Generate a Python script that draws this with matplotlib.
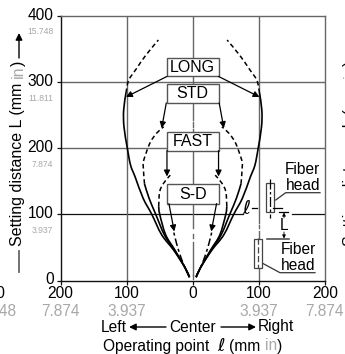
import matplotlib
matplotlib.use('Agg')
import matplotlib.pyplot as plt
from matplotlib.patches import Rectangle, PathPatch
from matplotlib.path import Path

plt.rcParams['font.family'] = ['Liberation Sans', 'DejaVu Sans']
plt.rcParams['font.size'] = 11.2

GRAY = '#a8a8a8'
GRID = '#666666'
DARK = '#111111'

# axis ticks
y_ticks = [0, 100, 200, 300, 400]
y_inch = ['', '3.937', '7.874', '11.811', '15.748']
x_ticks = [-200, -100, 0, 100, 200]
x_mm = ['200', '100', '0', '100', '200']
x_inch = ['7.874', '3.937', '', '3.937', '7.874']

# curves, left half as distance from centre (mm)
long_solid_x = [5, 12, 29, 47, 62, 75, 87, 94, 99, 104, 104.5, 101]
long_solid_y = [5, 20, 46, 69, 100, 124, 156, 174, 200, 232, 257, 283]
long_dash_x = [101, 97, 85, 71, 52]
long_dash_y = [283, 302, 320, 340, 363]
std_solid_x = [5, 12, 28, 43, 56, 66, 73]
std_solid_y = [5, 20, 46, 69, 100, 124, 146]
std_dash_x = [73, 75, 74, 65, 55, 44]
std_dash_y = [146, 174, 182, 207, 222, 232]
fast_solid_x = [5, 12, 27, 41, 50, 51.5]
fast_solid_y = [5, 20, 46, 69, 100, 112]
fast_dash_x = [51.5, 50, 44, 34]
fast_dash_y = [112, 134, 147, 159]
sd_x = [5, 12, 19, 24.5, 29]
sd_y = [5, 20, 38, 56, 74]

boxes = ['LONG', 'STD', 'FAST', 'S-D']
box_low = [308, 268, 196, 116]
box_high = [336, 296, 224, 145]

# leader arrows: start (x, y), tip (x, y)
leader_start = [(39, 308), (40, 268), (39, 196), (36, 116)]
leader_tip = [(101, 277), (47, 230), (39, 157), (28, 74)]

# visible stretches of the two broken grid lines (mm)
center_parts = [(3, 8), (8, 58), (64, 70), (79, 116), (145, 196), (224, 228), (232, 240), (242, 268), (296, 400)]
right_parts = [(0, 20), (64, 74), (79, 84), (87, 400)]


def smooth(xs, ys):
    # catmull-rom through the read points, as bezier path
    pts = list(zip(xs, ys))
    verts = [pts[0]]
    codes = [Path.MOVETO]
    for i in range(len(pts) - 1):
        p0 = pts[max(i - 1, 0)]
        p1 = pts[i]
        p2 = pts[i + 1]
        p3 = pts[min(i + 2, len(pts) - 1)]
        c1 = (p1[0] + (p2[0] - p0[0]) / 6, p1[1] + (p2[1] - p0[1]) / 6)
        c2 = (p2[0] - (p3[0] - p1[0]) / 6, p2[1] - (p3[1] - p1[1]) / 6)
        verts += [c1, c2, p2]
        codes += [Path.CURVE4] * 3
    return Path(verts, codes)


fig = plt.figure(figsize=(3.45, 3.54), dpi=100)
ax = fig.add_axes([60.5 / 345, 1 - 280.5 / 354, 264.5 / 345, 265 / 354])
ax.set_xlim(-200, 200)
ax.set_ylim(0, 400)
for s in ['top', 'right']:
    ax.spines[s].set_color(GRID)
    ax.spines[s].set_linewidth(1.0)
for s in ['left', 'bottom']:
    ax.spines[s].set_color(DARK)
    ax.spines[s].set_linewidth(1.0)
ax.set_xticks(x_ticks)
ax.set_yticks(y_ticks)
ax.set_xticklabels([])
ax.set_yticklabels([])
ax.tick_params(length=3, width=0.9, color=DARK)

# grid
ax.plot([-200, 200], [200, 200], color=GRID, lw=1.0, zorder=1)
ax.plot([-200, 200], [300, 300], color=GRID, lw=1.0, zorder=1)
ax.plot([-200, 76], [100, 100], color=DARK, lw=0.9, zorder=1)
ax.plot([150, 200], [100, 100], color=DARK, lw=0.9, zorder=1)
ax.plot([-100, -100], [0, 400], color=GRID, lw=1.0, zorder=1)
for lo, hi in center_parts:
    ax.plot([0, 0], [lo, hi], color=GRID, lw=1.0, zorder=1)
for lo, hi in right_parts:
    ax.plot([100, 100], [lo, hi], color=GRID, lw=1.0, zorder=1)

for sign in [-1, 1]:
    for xs, ys in [(long_solid_x, long_solid_y), (std_solid_x, std_solid_y), (fast_solid_x, fast_solid_y)]:
        ax.add_patch(PathPatch(smooth([sign * v for v in xs], ys), fc='none', ec='black', lw=1.2, zorder=3))
    for xs, ys in [(long_dash_x, long_dash_y), (std_dash_x, std_dash_y), (fast_dash_x, fast_dash_y)]:
        ax.add_patch(PathPatch(smooth([sign * v for v in xs], ys), fc='none', ec='black', lw=1.1, zorder=3,
                               ls=(0, (3, 2))))
    ax.add_patch(PathPatch(smooth([sign * v for v in sd_x], sd_y), fc='none', ec='black', lw=1.1, zorder=3,
                           ls=(0, (5, 2, 2, 2))))
    for st, tip in zip(leader_start, leader_tip):
        ax.annotate('', xy=(sign * tip[0], tip[1]), xytext=(sign * st[0], st[1]), zorder=5,
                    arrowprops=dict(arrowstyle='-|>', color='black', lw=0.9, mutation_scale=9,
                                    shrinkA=0, shrinkB=0))

for name, lo, hi in zip(boxes, box_low, box_high):
    ax.add_patch(Rectangle((-39.5, lo), 79, hi - lo, fc='white', ec='#555555', lw=1.0, zorder=4))
    ax.text(0, (lo + hi) / 2, name, ha='center', va='center', fontsize=11.5, zorder=6)

# overlay in image pixels for labels and the little head diagram
ov = fig.add_axes([0, 0, 1, 1])
ov.set_xlim(0, 345)
ov.set_ylim(354, 0)
ov.axis('off')
ov.patch.set_alpha(0)

for v, lab in zip(y_ticks, y_inch):
    py = 280.5 - v * 0.6625
    ov.text(53.5, py - 0.5, str(v), ha='right', va='center')
    if lab:
        ov.text(53.5, py + 16.5, lab, ha='right', va='center', fontsize=6.2, color=GRAY)
for v, a, b in zip(x_ticks, x_mm, x_inch):
    px = 192.8 + v * 0.661
    ov.text(px, 294, a, ha='center', va='center')
    ov.text(px, 311, b, ha='center', va='center', color=GRAY)

# clipped labels from the neighbouring chart
ov.text(5.5, 294, '200', ha='right', va='center')
ov.text(16.8, 311, '15.748', ha='right', va='center', color=GRAY)

fig.canvas.draw()
rend = fig.canvas.get_renderer()


def chain_vertical(x, y_start, pieces):
    # rotated label made from pieces, going upwards in the picture
    y = y_start
    for txt, col in pieces:
        t = ov.text(x, y, txt, rotation=90, ha='center', va='bottom', fontsize=11.5, color=col)
        y -= t.get_window_extent(rend).height


def chain_horizontal(x, y, pieces):
    for txt, col in pieces:
        t = ov.text(x, y, txt, ha='left', va='center', color=col)
        x += t.get_window_extent(rend).width


label_parts = [('Setting distance L (mm ', 'black'), ('in', GRAY), (')', 'black')]
chain_vertical(18, 246, label_parts)
chain_vertical(350.5, 246, label_parts)
ov.plot([19, 19], [272, 251], color='#666666', lw=1.3)
ov.annotate('', xy=(19, 33), xytext=(19, 58),
            arrowprops=dict(arrowstyle='-|>', color='black', lw=1.0, mutation_scale=10, shrinkA=0, shrinkB=0))

ov.text(100.5, 327, 'Left', va='center')
ov.text(169, 327, 'Center', va='center')
ov.text(258, 327, 'Right', va='center')
ov.annotate('', xy=(129, 327), xytext=(166, 327),
            arrowprops=dict(arrowstyle='-|>', color='black', lw=1.0, mutation_scale=10, shrinkA=0, shrinkB=0))
ov.annotate('', xy=(256, 327), xytext=(221, 327),
            arrowprops=dict(arrowstyle='-|>', color='black', lw=1.0, mutation_scale=10, shrinkA=0, shrinkB=0))

ov.text(103, 346, 'Operating point', va='center')
ov.text(217, 346, '\u2113', va='center', fontsize=13, style='italic', family='DejaVu Sans')
chain_horizontal(229, 346, [('(mm ', 'black'), ('in', GRAY), (')', 'black')])

# fibre head diagram
ov.add_patch(Rectangle((266.3, 183), 8, 28.7, fc='white', ec='#444444', lw=0.9, zorder=3))
ov.add_patch(Rectangle((254, 238.5), 7.5, 29, fc='white', ec='#444444', lw=0.9, zorder=3))
ov.plot([270.3, 270.3], [179, 218], color='black', lw=0.9, zorder=4, ls=(0, (8, 2, 2, 2)))
ov.plot([258.3, 258.3], [238, 268], color='#444444', lw=0.9, zorder=4, ls=(0, (5, 2)))
ov.plot([273, 282], [207.7, 207.7], color='black', lw=0.9, zorder=4)
ov.plot([279, 288], [211.7, 211.7], color='black', lw=0.9)
ov.plot([267, 289], [238.7, 238.7], color='#444444', lw=1.1, zorder=4)
ov.text(284, 225, 'L', ha='center', va='center')
ov.annotate('', xy=(284, 212.5), xytext=(284, 218),
            arrowprops=dict(arrowstyle='-|>', color='black', lw=0.6, mutation_scale=5, shrinkA=0, shrinkB=0))
ov.annotate('', xy=(284, 238.5), xytext=(284, 232),
            arrowprops=dict(arrowstyle='-|>', color='black', lw=0.6, mutation_scale=5, shrinkA=0, shrinkB=0))
ov.text(246, 208, '\u2113', ha='center', va='center', fontsize=14, style='italic', family='DejaVu Sans')
ov.plot([252, 257], [207.7, 207.7], color='black', lw=0.9)

ov.text(302.7, 170, 'Fiber', ha='center', va='center')
ov.text(302.7, 185.5, 'head', ha='center', va='center')
ov.plot([275.7, 285.7, 320], [200, 192.7, 192.7], color='#333333', lw=0.9)
ov.text(298, 249, 'Fiber', ha='center', va='center')
ov.text(298, 265, 'head', ha='center', va='center')
ov.plot([262, 280, 315], [263, 272.7, 272.7], color='#333333', lw=0.9)

fig.savefig('out.png', dpi=100)
